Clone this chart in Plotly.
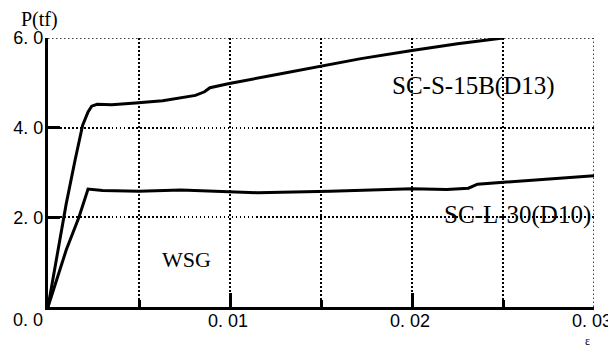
import plotly.graph_objects as go

# SC-S-15B(D13)
eps_s = [0, 0.0005, 0.0010, 0.0015, 0.0019, 0.0022, 0.0024, 0.0027, 0.0035, 0.0048, 0.0063,
         0.0081, 0.0086, 0.0089, 0.0099, 0.0125, 0.0150, 0.0172, 0.0200, 0.0225, 0.0250]
p_s = [0, 1.2, 2.3, 3.3, 4.05, 4.35, 4.48, 4.52, 4.51, 4.55, 4.60,
       4.72, 4.80, 4.89, 4.98, 5.18, 5.37, 5.54, 5.72, 5.87, 6.0]

# SC-L-30(D10)
eps_l = [0, 0.0010, 0.0017, 0.0020, 0.0022, 0.0030, 0.0050, 0.0073, 0.0090, 0.0115,
         0.0155, 0.0200, 0.0219, 0.0231, 0.0236, 0.0260, 0.0300]
p_l = [0, 1.27, 2.0, 2.4, 2.63, 2.60, 2.58, 2.61, 2.58, 2.55,
       2.58, 2.64, 2.62, 2.65, 2.74, 2.81, 2.93]

x_ticks = [0.01, 0.02, 0.03]
x_tick_text = ["0. 01", "0. 02", "0. 03"]
x_minor = [0.005, 0.015, 0.025]
y_ticks = [2, 4, 6]
y_tick_text = ["2. 0", "4. 0", "6. 0"]

fig = go.Figure()
for xs, ys in [(eps_s, p_s), (eps_l, p_l)]:
    fig.add_trace(go.Scatter(x=xs, y=ys, mode="lines",
                             line=dict(color="black", width=3), showlegend=False))

tick_font = dict(family="Liberation Sans, Arial, sans-serif", size=18, color="black")
serif = "Liberation Serif, Times New Roman, serif"
dot = "1.5px,2.5px"

fig.update_xaxes(range=[0, 0.03], tickvals=x_ticks, ticktext=x_tick_text,
                 ticks="inside", ticklen=14, tickwidth=3, tickcolor="black",
                 showline=True, linecolor="black", linewidth=3,
                 showgrid=True, gridcolor="black", griddash=dot, gridwidth=1.5,
                 zeroline=False, tickfont=tick_font, automargin=False,
                 ticklabelstandoff=-5, ticklabelshift=-2,
                 minor=dict(tickvals=x_minor, ticks="inside", ticklen=7, tickwidth=3,
                            tickcolor="black", showgrid=True, gridcolor="black",
                            griddash=dot, gridwidth=1.5))
fig.update_yaxes(range=[0, 6], tickvals=y_ticks, ticktext=y_tick_text,
                 ticks="inside", ticklen=12, tickwidth=3, tickcolor="black",
                 showline=True, linecolor="black", linewidth=3,
                 showgrid=True, gridcolor="black", griddash=dot, gridwidth=1.5,
                 zeroline=False, tickfont=tick_font, automargin=False,
                 ticklabelstandoff=-2)

# dotted frame on right and top (grid lines at the range edges)
fig.add_shape(type="line", xref="x", yref="y", x0=0.03, x1=0.03, y0=0, y1=6,
              line=dict(color="black", width=1.5, dash=dot))
fig.add_shape(type="line", xref="x", yref="y", x0=0, x1=0.03, y0=6, y1=6,
              line=dict(color="black", width=1.5, dash=dot))

annots = [
    dict(x=0, y=0, text="0. 0", xanchor="right", yanchor="top", xshift=-3, yshift=-1,
         font=tick_font),
    dict(x=0, y=6, text="P(tf)", xanchor="center", yanchor="bottom", xshift=-9, yshift=5,
         font=dict(family=serif, size=20, color="black")),
    dict(x=0.03, y=0, text="ε", xanchor="center", yanchor="top", xshift=-7, yshift=-25,
         font=dict(family=serif, size=12, color="black")),
    dict(x=0.0234, y=4.92, text="SC-S-15B(D13)", xanchor="center", yanchor="middle",
         font=dict(family=serif, size=25, color="black")),
    dict(x=0.0258, y=2.06, text="SC-L-30(D10)", xanchor="center", yanchor="middle",
         font=dict(family=serif, size=25, color="black")),
    dict(x=0.0076, y=1.05, text="WSG", xanchor="center", yanchor="middle",
         font=dict(family=serif, size=22, color="black")),
]
for a in annots:
    a.update(xref="x", yref="y", showarrow=False)
    fig.add_annotation(**a)

# page body adds an 8px offset; shrink figure so the plot area lands at the reference spot
fig.update_layout(width=608, height=344, margin=dict(l=40, r=22, t=30, b=45),
                  plot_bgcolor="white", paper_bgcolor="white")
fig.write_html("out.html")
